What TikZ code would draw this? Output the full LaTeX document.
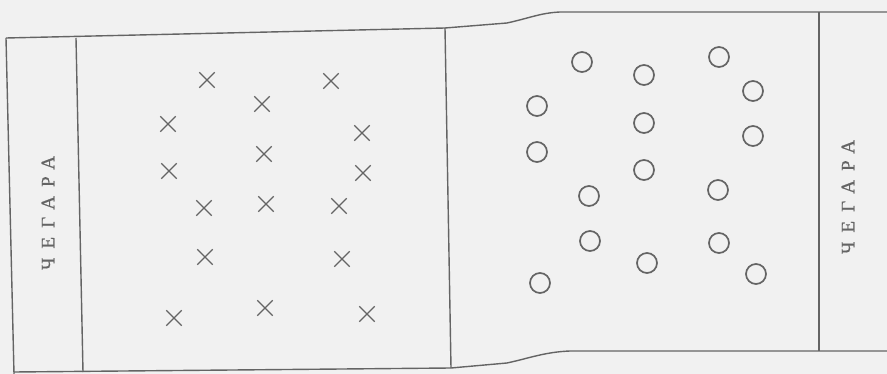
\documentclass[tikz,border=0pt]{standalone}
\usepackage{fontspec}
\newfontfamily\cyrfont[LetterSpace=48,FakeBold=0.8]{Liberation Serif}
\usetikzlibrary{shapes.misc}
\definecolor{ink}{RGB}{100,100,100}
\definecolor{paper}{RGB}{241,241,241}
\begin{document}
\begin{tikzpicture}[x=1pt,y=-1pt,
  frame/.style={draw=ink,line width=1.4pt},
  xmark/.style={cross out,draw=ink,line width=1.3pt,minimum size=14pt,inner sep=0pt},
  omark/.style={circle,draw=ink,line width=1.7pt,minimum size=20pt,inner sep=0pt},
  label/.style={rotate=90,text=ink,font=\cyrfont\fontsize{19}{19}\selectfont}]
\fill[paper] (0,0) rectangle (887,374);
\useasboundingbox (0,0) rectangle (887,374);
% frame
\draw[frame] (6,38) -- (445,28) -- (507,23) .. controls (530,18) and (540,13) .. (560,12) -- (887,12);
\draw[frame] (14,374) -- (6,38);
\draw[frame] (83,372) -- (76,38);
\draw[frame] (445,28) -- (451,368);
\draw[frame] (14,372) -- (451,368) -- (507,363) .. controls (530,358) and (545,352) .. (570,351) -- (887,351);
\draw[frame] (819,12) -- (819,351);
% labels
\node[label] (l1) at (48,213) {ЧЕГАРА};
\node[label] (l2) at (848,197) {ЧЕГАРА};
% crosses
\node[xmark] (x1) at (207,80) {};
\node[xmark] (x2) at (331,81) {};
\node[xmark] (x3) at (262,104) {};
\node[xmark] (x4) at (168,124) {};
\node[xmark] (x5) at (362,133) {};
\node[xmark] (x6) at (264,154) {};
\node[xmark] (x7) at (169,171) {};
\node[xmark] (x8) at (363,173) {};
\node[xmark] (x9) at (204,208) {};
\node[xmark] (x10) at (266,204) {};
\node[xmark] (x11) at (339,206) {};
\node[xmark] (x12) at (205,257) {};
\node[xmark] (x13) at (342,259) {};
\node[xmark] (x14) at (174,318) {};
\node[xmark] (x15) at (265,308) {};
\node[xmark] (x16) at (367,314) {};
% circles
\node[omark] (o1) at (582,62) {};
\node[omark] (o2) at (644,75) {};
\node[omark] (o3) at (719,57) {};
\node[omark] (o4) at (753,91) {};
\node[omark] (o5) at (537,106) {};
\node[omark] (o6) at (644,123) {};
\node[omark] (o7) at (753,136) {};
\node[omark] (o8) at (537,152) {};
\node[omark] (o9) at (644,170) {};
\node[omark] (o10) at (589,196) {};
\node[omark] (o11) at (718,190) {};
\node[omark] (o12) at (590,241) {};
\node[omark] (o13) at (719,243) {};
\node[omark] (o14) at (647,263) {};
\node[omark] (o15) at (756,274) {};
\node[omark] (o16) at (540,283) {};
\end{tikzpicture}
\end{document}
